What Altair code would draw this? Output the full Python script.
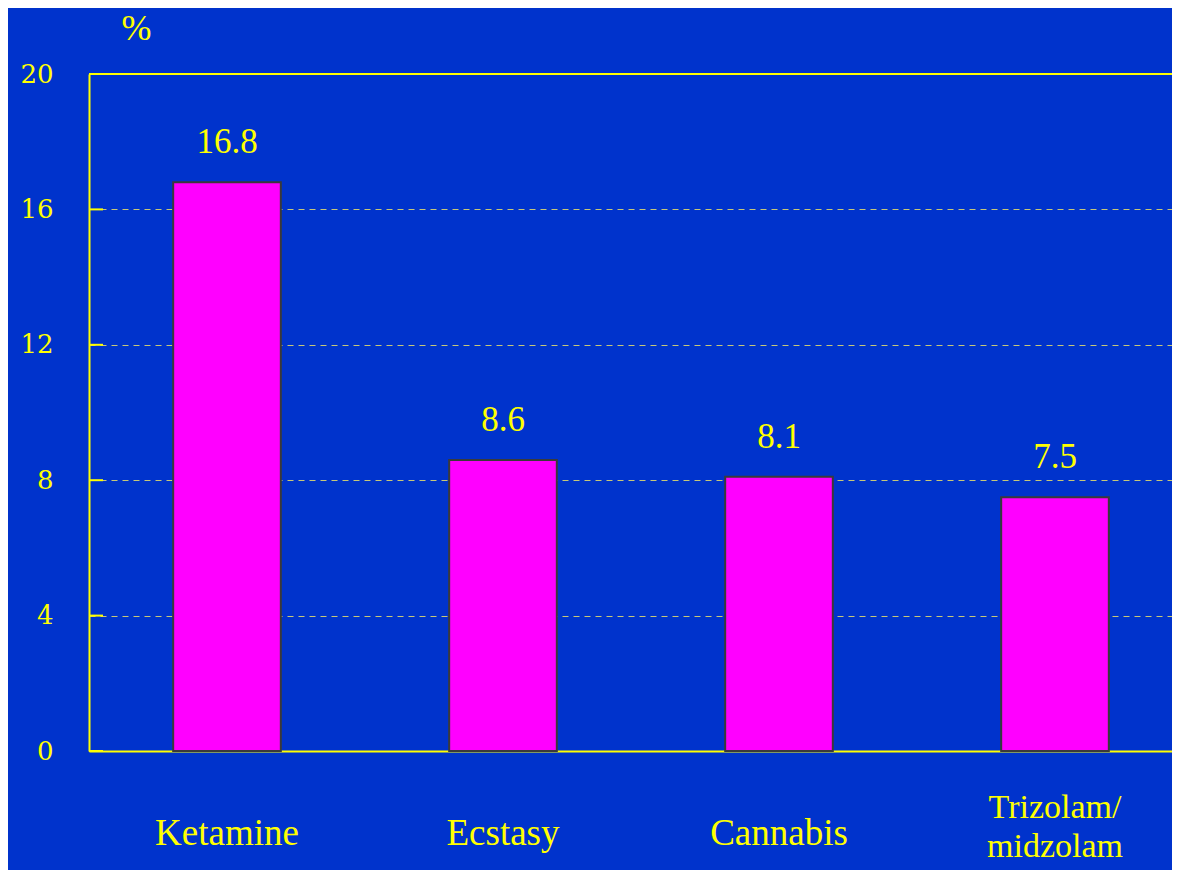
import altair as alt
import pandas as pd

categories = ["Ketamine", "Ecstasy", "Cannabis", "Trizolam/|midzolam"]
values = [16.8, 8.6, 8.1, 7.5]
y_ticks = [0, 4, 8, 12, 16, 20]

BLUE = "#0033cc"
YELLOW = "#ffff00"
FONT = "Liberation Serif"

df = pd.DataFrame({"drug": categories, "pct": values})
ticks_df = pd.DataFrame({"t": y_ticks})

xscale = alt.Scale(range=[0, 1104], paddingInner=0.61, paddingOuter=0.305)
yscale = alt.Scale(domain=[0, 20])

is_two_line = "datum.value == 'Trizolam/|midzolam'"

yaxis = alt.Axis(
    values=y_ticks, grid=True, gridDash=[6, 5], gridColor="#c8c878", gridWidth=1,
    domainColor=YELLOW, domainWidth=2, ticks=False, tickSize=0,
    labelFont="DejaVu Serif", labelFontSize=26, labelColor=YELLOW, labelPadding=36,
    title="%", titleAngle=0, titleX=47, titleY=-46, titleAlign="center",
    titleBaseline="middle", titleFont=FONT, titleFontSize=36,
    titleFontWeight="normal", titleColor=YELLOW,
)
xaxis = alt.Axis(
    title=None, labelAngle=0, ticks=False, tickSize=0, domainColor=YELLOW, domainWidth=2,
    labelFont=FONT, labelColor=YELLOW,
    labelFontSize={"condition": {"test": is_two_line, "value": 34}, "value": 37},
    labelPadding={"condition": {"test": is_two_line, "value": 56}, "value": 82},
    labelBaseline="middle", labelLineHeight=39,
    labelExpr="split(datum.label, '|')",
)

bars = alt.Chart(df).mark_bar(color="#ff00ff", stroke="#3a3a3a", strokeWidth=2).encode(
    x=alt.X("drug:N", sort=categories, scale=xscale, axis=xaxis),
    y=alt.Y("pct:Q", scale=yscale, axis=yaxis),
)

text = alt.Chart(df).mark_text(
    dy=-40, baseline="middle", font=FONT, fontSize=35, color=YELLOW
).encode(
    x=alt.X("drug:N", sort=categories, scale=xscale),
    y=alt.Y("pct:Q", scale=yscale),
    text=alt.Text("pct:Q", format=".1f"),
)

inner_ticks = alt.Chart(ticks_df).mark_rule(color=YELLOW, strokeWidth=2).encode(
    y=alt.Y("t:Q", scale=yscale),
    x=alt.value(0),
    x2=alt.value(14),
)

top_border = alt.Chart(ticks_df).mark_rule(color=YELLOW, strokeWidth=2).encode(
    y=alt.datum(20),
    x=alt.value(0),
    x2=alt.value(1104),
)

chart = alt.layer(inner_ticks, bars, text, top_border).properties(
    width=1083, height=677,
    autosize=alt.AutoSizeParams(type="none"),
    padding={"left": 81, "top": 66, "right": 0, "bottom": 119},
    background=BLUE,
).configure_view(stroke=None)

chart.save("out.html", embed_options={"renderer": "svg", "actions": False})
